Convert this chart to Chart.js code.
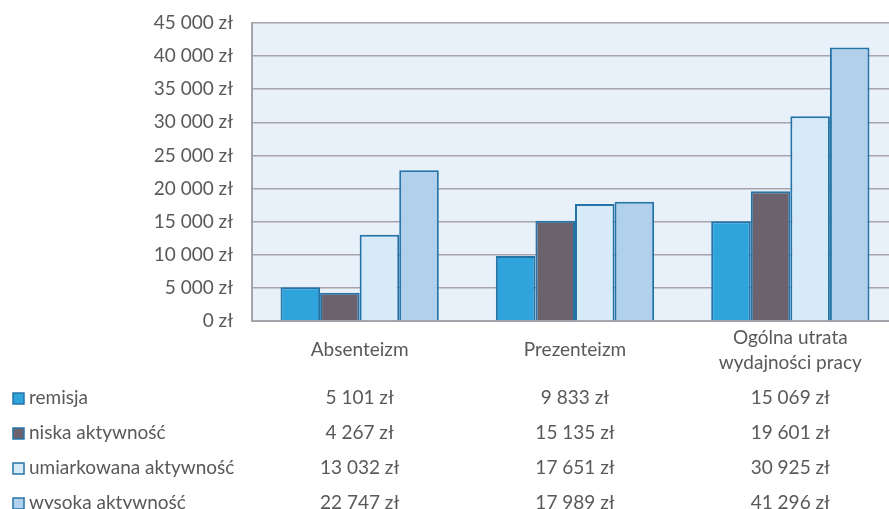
<!DOCTYPE html>
<html lang="pl">
<head>
<meta charset="utf-8">
<title>Utrata wydajności pracy</title>
<script src="https://cdn.jsdelivr.net/npm/chart.js@4.4.1/dist/chart.umd.min.js"></script>
<style>
  html, body { margin: 0; padding: 0; background: #ffffff; overflow: hidden; }
  #wrap { position: relative; width: 898px; height: 509px; }
</style>
</head>
<body>
<div id="wrap"><canvas id="chart" width="898" height="509"></canvas></div>
<script>
// Kategorie kosztów
const categories = ['Absenteizm', 'Prezenteizm', ['Ogólna utrata', 'wydajności pracy']];

// Serie: koszt w zł wg aktywności choroby
const seriesNames = ['remisja', 'niska aktywność', 'umiarkowana aktywność', 'wysoka aktywność'];
const remisja = [5101, 9833, 15069];
const niskaAktywnosc = [4267, 15135, 19601];
const umiarkowanaAktywnosc = [13032, 17651, 30925];
const wysokaAktywnosc = [22747, 17989, 41296];

// Oś wartości
const yMin = 0;
const yMax = 45000;
const yStep = 5000;

const fills = ['#2fa3dc', '#6b626e', '#d6ebf7', '#b1d0eb'];
const edge = '#2474a8';
const textColor = '#595959';
const gridColor = '#a7a3aa';
const FONT = 'Lato, "Open Sans", sans-serif';
const FONT_SIZE = 19;

function zl(v) {
  const s = Math.round(v).toString().replace(/\B(?=(\d{3})+(?!\d))/g, ' ');
  return s + ' zł';
}

const seriesValues = [remisja, niskaAktywnosc, umiarkowanaAktywnosc, wysokaAktywnosc];

// Tło obszaru wykresu
const plotBackground = {
  id: 'plotBackground',
  beforeDraw(chart) {
    const { ctx, chartArea: a } = chart;
    ctx.save();
    ctx.fillStyle = '#e8f0fa';
    ctx.fillRect(a.left, a.top, a.right - a.left, a.bottom - a.top);
    ctx.restore();
  }
};

// Etykiety kategorii i tabela danych pod osią
const dataTable = {
  id: 'dataTable',
  afterDraw(chart) {
    const { ctx } = chart;
    const x = chart.scales.x;
    ctx.save();
    ctx.font = FONT_SIZE + 'px ' + FONT;
    ctx.fillStyle = textColor;
    ctx.textBaseline = 'middle';
    ctx.textAlign = 'center';

    // nazwy kategorii, wyśrodkowane pionowo
    const labelMid = 350;
    const lineH = 25;
    categories.forEach((c, i) => {
      const lines = Array.isArray(c) ? c : [c];
      const cx = x.getPixelForValue(i);
      const y0 = labelMid - (lines.length - 1) * lineH / 2;
      lines.forEach((ln, k) => ctx.fillText(ln, cx, y0 + k * lineH));
    });

    // wiersze tabeli
    const rowTop = 398;
    const rowH = 35;
    chart.data.datasets.forEach((ds, r) => {
      const y = rowTop + r * rowH;
      // klucz legendy
      ctx.fillStyle = ds.backgroundColor;
      ctx.fillRect(13, y - 5, 11, 11);
      ctx.strokeStyle = edge;
      ctx.lineWidth = 1.5;
      ctx.strokeRect(13, y - 5, 11, 11);
      ctx.fillStyle = textColor;
      ctx.textAlign = 'left';
      ctx.fillText(ds.label, 29, y);
      ctx.textAlign = 'center';
      ds.data.forEach((v, i) => {
        ctx.fillText(zl(v), x.getPixelForValue(i), y);
      });
    });
    ctx.restore();
  }
};

new Chart(document.getElementById('chart'), {
  type: 'bar',
  data: {
    labels: categories,
    datasets: seriesNames.map((name, i) => ({
      label: name,
      data: seriesValues[i],
      backgroundColor: fills[i],
      borderColor: edge,
      borderWidth: 2,
      borderSkipped: 'bottom',
      categoryPercentage: 0.735,
      barPercentage: 1.0
    }))
  },
  options: {
    responsive: false,
    animation: false,
    devicePixelRatio: 1,
    layout: { padding: { top: 23, left: 0, right: 0, bottom: 0 } },
    plugins: {
      legend: { display: false },
      tooltip: { enabled: false }
    },
    scales: {
      x: {
        grid: { display: false, drawTicks: false },
        border: { display: true, color: gridColor, width: 2 },
        ticks: { display: false },
        afterFit(scale) { scale.height = 188; }
      },
      y: {
        min: yMin,
        max: yMax,
        grid: { color: gridColor, lineWidth: 1.6, drawTicks: false },
        border: { display: true, color: gridColor, width: 2 },
        ticks: {
          stepSize: yStep,
          padding: 19,
          color: textColor,
          font: { family: FONT, size: FONT_SIZE },
          callback: (v) => zl(v)
        },
        afterFit(scale) {
          scale.width = 252;
          scale.paddingTop = 0;
          scale.paddingBottom = 0;
        }
      }
    }
  },
  plugins: [plotBackground, dataTable]
});
</script>
</body>
</html>
